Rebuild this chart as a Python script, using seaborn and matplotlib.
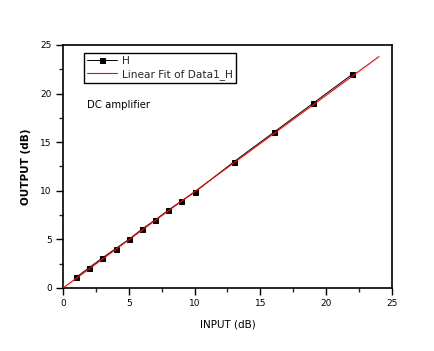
import matplotlib

matplotlib.use("Agg")
import matplotlib.pyplot as plt
from matplotlib.ticker import MultipleLocator
import pandas as pd
import seaborn as sns

# measured points
input_db = [1, 2, 3, 4, 5, 6, 7, 8, 9, 10, 13, 16, 19, 22]
output_db = [1.1, 2.1, 3.1, 4.05, 5.0, 6.05, 7.0, 8.0, 8.95, 9.85, 13.0, 16.0, 19.0, 22.0]

# linear fit end points
fit_x = [0, 24]
fit_y = [0.0, 23.8]

sns.set_theme(style="ticks")
plt.rcParams["font.family"] = ["DejaVu Sans"]

fig = plt.figure(figsize=(4.35, 3.51), dpi=100)
ax = fig.add_axes([0.1448, 0.1795, 0.7563, 0.6923])

data = pd.DataFrame({"x": input_db, "y": output_db})
fit = pd.DataFrame({"x": fit_x, "y": fit_y})

sns.lineplot(data=data, x="x", y="y", ax=ax, color="black", lw=0.7,
             marker="s", markersize=3.6, markeredgecolor="black", label="H", zorder=2)
sns.lineplot(data=fit, x="x", y="y", ax=ax, color="#ff0000", lw=0.8,
             label="Linear Fit of Data1_H", zorder=3)

ax.set_xlim(0, 25)
ax.set_ylim(0, 25)
ax.xaxis.set_major_locator(MultipleLocator(5))
ax.yaxis.set_major_locator(MultipleLocator(5))
ax.xaxis.set_minor_locator(MultipleLocator(2.5))
ax.yaxis.set_minor_locator(MultipleLocator(2.5))
ax.tick_params(which="major", direction="out", length=5, width=1, labelsize=6.5, colors="black", pad=3)
ax.tick_params(which="minor", direction="out", length=3, width=1)
for side in ax.spines.values():
    side.set_color("black")
    side.set_linewidth(1.2)

ax.set_xlabel("INPUT (dB)", fontsize=7.5, color="black", labelpad=8)
ax.set_ylabel("OUTPUT (dB)", fontsize=7.5, fontweight="bold", color="black", labelpad=7)

ax.text(0.072, 0.74, "DC amplifier", transform=ax.transAxes, fontsize=7.3, color="black")

leg = ax.legend(loc="upper left", bbox_to_anchor=(0.064, 0.967), borderaxespad=0, fontsize=7.6,
                frameon=True, fancybox=False, framealpha=1, handlelength=2.8,
                borderpad=0.3, labelspacing=0.25, handletextpad=0.5)
leg.get_frame().set_edgecolor("black")
leg.get_frame().set_linewidth(1.0)

fig.savefig("out.png", dpi=100)
plt.close(fig)
